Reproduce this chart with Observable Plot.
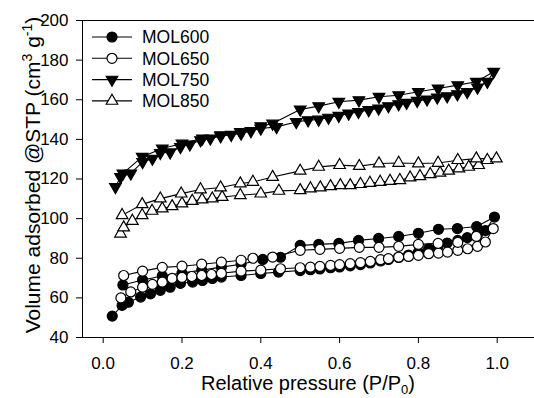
<!DOCTYPE html>
<html><head><meta charset="utf-8">
<script src="https://cdn.jsdelivr.net/npm/d3@7"></script>
<script src="https://cdn.jsdelivr.net/npm/@observablehq/plot@0.6"></script>
<style>
html,body{margin:0;padding:0;background:#fff;}
#chart{position:relative;width:534px;height:398px;}
</style></head><body><div id="chart"></div>
<script>
const seriesNames = ["MOL600", "MOL650", "MOL750", "MOL850"];
const xTicks = [0, 0.2, 0.4, 0.6, 0.8, 1.0];
const yTicks = [40, 60, 80, 100, 120, 140, 160, 180, 200];

// MOL600 (filled circles): adsorption then desorption
const mol600P = [0.023, 0.048, 0.064, 0.095, 0.12, 0.145, 0.17, 0.196, 0.227, 0.252, 0.277, 0.3, 0.35, 0.4, 0.445, 0.5, 0.526, 0.55, 0.577, 0.6, 0.627, 0.653, 0.678, 0.704, 0.724, 0.75, 0.775, 0.8, 0.826, 0.85, 0.873, 0.9, 0.924, 0.95, 0.97, 0.993,
  0.948, 0.899, 0.851, 0.8, 0.75, 0.699, 0.648, 0.598, 0.547, 0.5, 0.45, 0.405, 0.35, 0.3, 0.25, 0.2, 0.15, 0.1, 0.05];
const mol600V = [50.8, 56.2, 57.8, 60.4, 62, 63.8, 65.4, 67.3, 68, 68.8, 69.8, 70.5, 71.3, 72.3, 73, 73.8, 74.2, 74.6, 75.2, 75.6, 76.2, 76.8, 77.6, 78.6, 79.4, 80.4, 81.6, 83, 84.8, 86, 87.7, 89, 90.4, 92, 94, 100.8,
  96, 95, 94.6, 92.6, 91, 90, 89, 87.5, 87, 86.5, 80.5, 79.4, 77, 75.5, 74, 72.5, 71, 69, 66.5];

// MOL650 (open circles)
const mol650P = [0.045, 0.07, 0.1, 0.125, 0.15, 0.175, 0.2, 0.225, 0.25, 0.275, 0.3, 0.35, 0.4, 0.45, 0.5, 0.526, 0.55, 0.577, 0.6, 0.627, 0.653, 0.678, 0.704, 0.724, 0.75, 0.775, 0.8, 0.826, 0.851, 0.874, 0.9, 0.925, 0.95, 0.97, 0.99,
  0.947, 0.9, 0.85, 0.8, 0.75, 0.7, 0.65, 0.6, 0.55, 0.5, 0.43, 0.38, 0.35, 0.3, 0.25, 0.2, 0.15, 0.1, 0.052];
const mol650V = [60, 63, 65.4, 66.8, 68, 69.8, 70.3, 70.8, 71.3, 71.8, 72.4, 73.5, 74, 74.7, 75.2, 75.5, 75.9, 76.4, 76.8, 77.3, 77.8, 78.4, 79.3, 79.8, 80.6, 80.9, 81.5, 82.3, 82.6, 83.1, 84, 84.8, 86, 88.2, 95,
  91, 88, 87.5, 87, 86, 85.5, 85.5, 85, 84.5, 84, 80.6, 80, 79, 78, 77, 76, 75.4, 73.5, 71.3];

// MOL750 (filled down-triangles)
const mol750P = [0.031, 0.044, 0.07, 0.1, 0.125, 0.145, 0.17, 0.196, 0.22, 0.247, 0.272, 0.298, 0.325, 0.35, 0.375, 0.4, 0.44, 0.49, 0.52, 0.547, 0.572, 0.598, 0.623, 0.648, 0.674, 0.699, 0.724, 0.75, 0.77, 0.797, 0.822, 0.848, 0.873, 0.899, 0.924, 0.95, 0.975, 0.991,
  0.947, 0.9, 0.85, 0.8, 0.75, 0.7, 0.649, 0.598, 0.547, 0.5, 0.43, 0.4, 0.348, 0.298, 0.252, 0.2, 0.15, 0.099, 0.05];
const mol750V = [116, 121, 122.8, 128.6, 130.3, 133.2, 133.5, 136.2, 137.5, 139.6, 140.5, 141.6, 142.3, 143, 144.2, 145.5, 146.3, 148.8, 149.7, 150, 151, 151.9, 153.1, 153.9, 154.8, 155.6, 156.8, 157.8, 158.5, 159.5, 160.2, 161.2, 161.8, 162.8, 164, 166.2, 169.1, 174.1,
  169.1, 167.4, 165.7, 164, 162.3, 161.5, 159.8, 159, 156.8, 155.1, 148, 146.7, 143.8, 142.1, 140.5, 137.9, 135.4, 131.2, 122.8];

// MOL850 (open up-triangles)
const mol850P = [0.044, 0.052, 0.074, 0.099, 0.124, 0.15, 0.175, 0.2, 0.226, 0.251, 0.277, 0.302, 0.348, 0.4, 0.446, 0.5, 0.526, 0.551, 0.577, 0.602, 0.627, 0.653, 0.677, 0.703, 0.728, 0.753, 0.779, 0.804, 0.83, 0.855, 0.877, 0.903, 0.928, 0.953, 0.975, 0.998,
  0.947, 0.9, 0.85, 0.8, 0.75, 0.7, 0.65, 0.6, 0.547, 0.5, 0.43, 0.38, 0.348, 0.298, 0.247, 0.198, 0.145, 0.099, 0.048];
const mol850V = [92.4, 95.5, 98.8, 101.7, 103.9, 105.1, 106.2, 107.6, 108.9, 109.6, 110.1, 110.9, 111.8, 112.6, 114, 114.3, 115.2, 115.7, 116.3, 116.8, 116.8, 117.4, 118, 118.5, 119, 119.4, 120.7, 121.4, 122.4, 123.1, 124.1, 125.3, 126.1, 127, 129.5, 130.3,
  130.3, 129.5, 128.1, 127.8, 128.1, 127.8, 126.5, 127, 126.1, 124.1, 121, 118.5, 117.7, 115.7, 114.7, 112.6, 110.1, 107.2, 101.7];

const seriesP = [mol600P, mol650P, mol750P, mol850P];
const seriesV = [mol600V, mol650V, mol750V, mol850V];

const triDown = {
  draw(context, size) {
    const y = -Math.sqrt(size / (Math.sqrt(3) * 3));
    context.moveTo(0, -y * 2);
    context.lineTo(-Math.sqrt(3) * y, y);
    context.lineTo(Math.sqrt(3) * y, y);
    context.closePath();
  }
};
const styleOf = {
  MOL600: {symbol: "circle", fill: "black", r: 5},
  MOL650: {symbol: "circle", fill: "white", r: 5},
  MOL750: {symbol: triDown, fill: "black", r: 4.3},
  MOL850: {symbol: "triangle", fill: "white", r: 4.3}
};

const font = "'Liberation Sans', Arial, Helvetica, sans-serif";
const marks = [Plot.ruleY([200], {stroke: "black", strokeWidth: 1.2})];
seriesNames.forEach((name, k) => {
  const rows = seriesP[k].map((p, i) => ({p, v: seriesV[k][i]}));
  const st = styleOf[name];
  marks.push(Plot.line(rows, {x: "p", y: "v", stroke: "black", strokeWidth: 1.1}));
  marks.push(Plot.dot(rows, {x: "p", y: "v", symbol: st.symbol, fill: st.fill, stroke: "black", strokeWidth: 1.2, r: st.r}));
});

const W = 534, H = 398;
const chart = Plot.plot({
  width: W, height: H,
  marginLeft: 82, marginRight: 0, marginTop: 20, marginBottom: 61,
  style: {fontFamily: font, fontSize: "17px", color: "black", background: "white", overflow: "visible"},
  x: {domain: [-0.0525, 1.0947], ticks: xTicks, tickFormat: d3.format(".1f"), tickSize: 6, tickPadding: 13, label: null, line: true},
  y: {domain: [40, 200], ticks: yTicks, tickSize: 6, tickPadding: 8, label: null, line: true},
  marks
});
document.getElementById("chart").appendChild(chart);

// titles and legend
const svg = d3.select(chart);
const xt = svg.append("text").attr("x", 308).attr("y", 390).attr("text-anchor", "middle")
  .attr("font-family", font).attr("font-size", 20).attr("fill", "black");
xt.append("tspan").text("Relative pressure (P/P");
xt.append("tspan").attr("font-size", 13).attr("dy", 3.5).text("0");
xt.append("tspan").attr("dy", -3.5).text(")");

const yt = svg.append("text").attr("transform", "translate(40,175) rotate(-90)").attr("text-anchor", "middle")
  .attr("font-family", font).attr("font-size", 21).attr("fill", "black");
yt.append("tspan").text("Volume adsorbed @STP (cm");
yt.append("tspan").attr("font-size", 14).attr("dy", -8).text("3");
yt.append("tspan").attr("dy", 8).text(" g");
yt.append("tspan").attr("font-size", 14).attr("dy", -8).text("-1");
yt.append("tspan").attr("dy", 8).text(")");

const lg = svg.append("g");
seriesNames.forEach((name, k) => {
  const y = 37 + k * 21.3;
  const st = styleOf[name];
  lg.append("line").attr("x1", 92).attr("x2", 132).attr("y1", y).attr("y2", y).attr("stroke", "black").attr("stroke-width", 1.1);
  const sym = d3.symbol().type(st.symbol === "circle" ? d3.symbolCircle : st.symbol === "triangle" ? d3.symbolTriangle : triDown).size(Math.PI * st.r * st.r);
  lg.append("path").attr("d", sym()).attr("transform", `translate(112,${y})`).attr("fill", st.fill).attr("stroke", "black").attr("stroke-width", 1.2);
  lg.append("text").attr("x", 142).attr("y", y).attr("dy", "0.36em").attr("text-anchor", "start").attr("font-family", font).attr("font-size", 17.5).attr("fill", "black").text(name);
});
</script></body></html>
